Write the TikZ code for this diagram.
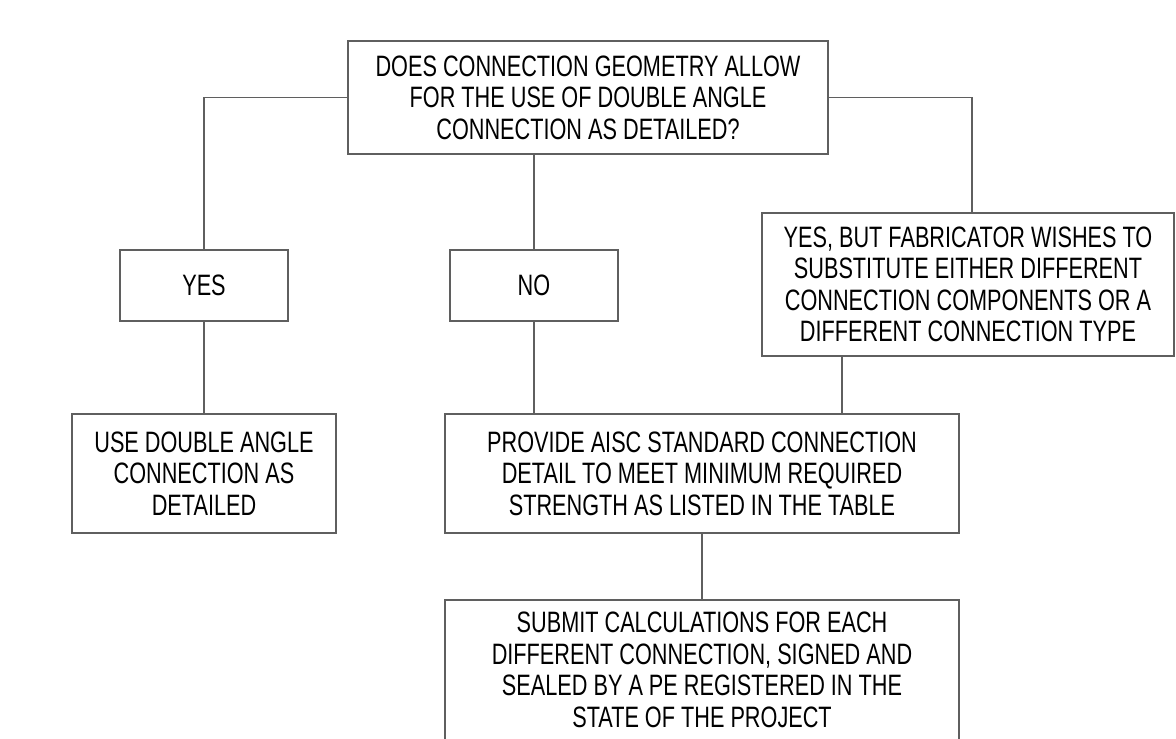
\documentclass[tikz,border=0pt]{standalone}
\usepackage{fontspec}
\setmainfont{Liberation Sans}[FakeStretch=0.735]
\definecolor{edge}{RGB}{95,95,95}
\tikzset{
  box/.style={draw=edge, line width=1.2pt, rectangle, inner sep=0pt, align=center,
    font=\fontsize{29.5}{31.5}\selectfont, text=black},
  link/.style={draw=edge, line width=1.2pt}
}
\begin{document}
\begin{tikzpicture}[x=1pt,y=-1pt]
\useasboundingbox (0,0) rectangle (1176,739);
\clip (0,0) rectangle (1176,739);
\fill[white] (0,0) rectangle (1176,739);
\node[box, minimum width=480, minimum height=113] (top) at (588,97.5)
  {DOES CONNECTION GEOMETRY ALLOW\\FOR THE USE OF DOUBLE ANGLE\\CONNECTION AS DETAILED?};
\node[box, minimum width=168, minimum height=71] (yes) at (204,285.5) {YES};
\node[box, minimum width=168, minimum height=71] (no) at (534,285.5) {NO};
\node[box, minimum width=412, minimum height=143] (alt) at (968,284.5)
  {YES, BUT FABRICATOR WISHES TO\\SUBSTITUTE EITHER DIFFERENT\\CONNECTION COMPONENTS OR A\\DIFFERENT CONNECTION TYPE};
\node[box, minimum width=264, minimum height=119] (use) at (204,473.5)
  {USE DOUBLE ANGLE\\CONNECTION AS\\DETAILED};
\node[box, minimum width=514, minimum height=119] (prov) at (702,473.5)
  {PROVIDE AISC STANDARD CONNECTION\\DETAIL TO MEET MINIMUM REQUIRED\\STRENGTH AS LISTED IN THE TABLE};
\node[box, minimum width=514, minimum height=140] (sub) at (702,670)
  {SUBMIT CALCULATIONS FOR EACH\\DIFFERENT CONNECTION, SIGNED AND\\SEALED BY A PE REGISTERED IN THE\\STATE OF THE PROJECT};
\coordinate (tl) at (204,97.5);
\coordinate (tr) at (972,97.5);
\draw[link] (top.west) -- (tl) -- (yes.north);
\draw[link] (top.east) -- (tr) -- (tr |- alt.north);
\draw[link] (no.north |- top.south) -- (no.north);
\draw[link] (yes.south) -- (use.north -| yes.south);
\draw[link] (no.south) -- (prov.north -| no.south);
\draw[link] (alt.south -| 842,0) -- (prov.north -| 842,0);
\draw[link] (prov.south) -- (sub.north);
\end{tikzpicture}
\end{document}
